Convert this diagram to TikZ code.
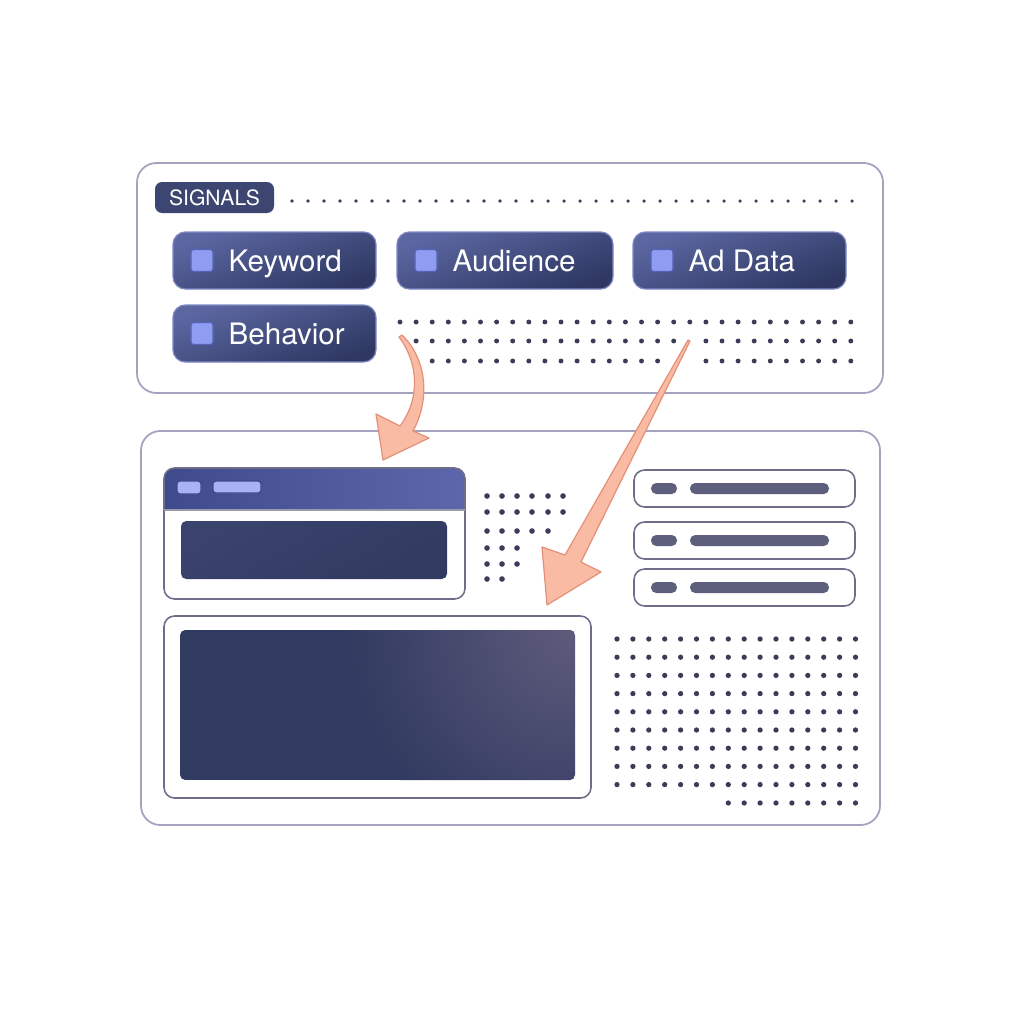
\documentclass[tikz,border=0pt]{standalone}
\usepackage{fontspec}
\setmainfont{TeX Gyre Heros}
\definecolor{panelline}{HTML}{A4A2BE}
\definecolor{cardline}{HTML}{6F6E8A}
\definecolor{chiplight}{HTML}{5C67A2}
\definecolor{chipdark}{HTML}{2E3862}
\definecolor{chipedge}{HTML}{8089C4}
\definecolor{tick}{HTML}{8E9DF2}
\definecolor{tickedge}{HTML}{5562B8}
\definecolor{dotc}{HTML}{3B3D58}
\definecolor{pill}{HTML}{5D5F7C}
\definecolor{arrowfill}{HTML}{F9BBA4}
\definecolor{arrowedge}{HTML}{E5917A}
\definecolor{hdrleft}{HTML}{3F4B8C}
\definecolor{hdrright}{HTML}{5D66AA}
\definecolor{screen}{HTML}{313A60}
\definecolor{screenhi}{HTML}{5E5B7C}
\definecolor{tagfill}{HTML}{3C4671}
\definecolor{hdrtick}{HTML}{9AA6F2}

\begin{document}
\begin{tikzpicture}[x=0.01cm,y=-0.01cm,
  panel/.style={draw=panelline,line width=0.5pt,rounded corners=5.5pt},
  card/.style={draw=cardline,line width=0.45pt,rounded corners=3pt},
  chip/.style={draw=chipedge,line width=0.35pt,rounded corners=3.5pt,top color=chiplight,bottom color=chipdark,shading angle=20},
  tickbox/.style={draw=tickedge,fill=tick,line width=0.3pt,rounded corners=0.8pt,minimum size=0.22cm,inner sep=0pt},
  chiptext/.style={anchor=base west,inner sep=0pt,text=white,font=\fontsize{8.4}{10}\selectfont},
  pillbar/.style={fill=pill,rounded corners=1.5pt},
  sigarrow/.style={fill=arrowfill,draw=arrowedge,line width=0.35pt,line join=round}]
  \newcommand\sigchip[5]{%
    \shade[chip] (#2,#3) rectangle (#4,#3+57);
    \node[tickbox] (#1box) at (#2+29,#3+28.5) {};
    \node[chiptext] (#1) at (#2+55,#3+39) {#5};
  }
  \useasboundingbox (0,0) rectangle (1024,1024);
  \fill[white] (0,0) rectangle (1024,1024);

% signals panel
  \draw[panel] (137,163) rectangle (883,393);
  \fill[tagfill,rounded corners=2pt] (155,182) rectangle (274,213);
  \node[inner sep=0pt,text=white,font=\fontsize{6}{7}\selectfont] (signals) at (214.5,198) {SIGNALS};
  \foreach \k in {0,...,35}
    \fill[dotc] (292+16*\k,201) circle (0.5pt);
  \sigchip{kw}{173}{232}{376}{Keyword}
  \sigchip{aud}{397}{232}{613}{Audience}
  \sigchip{addata}{633}{232}{846}{Ad Data}
  \sigchip{beh}{173}{305}{376}{Behavior}
  \foreach \k in {0,...,28}
    \fill[dotc] (400+16.1*\k,322) circle (0.7pt);
  \foreach \k in {1,...,17,19,20,21,22,23,24,25,26,27,28}
    \fill[dotc] (400+16.1*\k,341) circle (0.7pt);
  \foreach \k in {2,...,16,19,20,21,22,23,24,25,26,27,28}
    \fill[dotc] (400+16.1*\k,361) circle (0.7pt);

% layout panel
  \draw[panel] (141,431) rectangle (880,825);
  \begin{scope}
    \clip[rounded corners=3pt] (164,468) rectangle (465,599);
    \shade[left color=hdrleft,right color=hdrright] (164,468) rectangle (465,510);
  \end{scope}
  \draw[card] (164,468) rectangle (465,599);
  \draw[cardline!70,line width=0.3pt] (164,510) -- (465,510);
  \draw[hdrtick,fill=hdrtick!85,rounded corners=0.8pt,draw=hdrleft] (177,481) rectangle (201,494);
  \draw[hdrtick,fill=hdrtick!85,rounded corners=0.8pt,draw=hdrleft] (213,481) rectangle (261,493);
  \shade[rounded corners=1.5pt,top color=screen!80!chiplight,bottom color=screen,shading angle=30] (181,521) rectangle (447,579);

  \foreach \x/\y in {487/496,502/496,517/496,532/496,548/496,563/496,
                     487/512,502/512,517/512,532/512,548/512,563/512,
                     487/531,502/531,517/531,532/531,548/531,
                     487/548,502/548,517/548,
                     487/564,502/564,517/564,
                     487/579,502/579}
    \fill[dotc] (\x,\y) circle (0.8pt);

  \foreach \y in {470,522,569} {
    \draw[card] (634,\y) rectangle (855,\y+37);
    \fill[pillbar] (651,\y+13) rectangle (677,\y+24);
    \fill[pillbar] (690,\y+13) rectangle (829,\y+24);
  }

  \draw[card] (164,616) rectangle (591,798);
  \begin{scope}
    \clip[rounded corners=1.5pt] (180,630) rectangle (575,780);
    \fill[screen] (180,630) rectangle (575,780);
    \shade[inner color=screenhi,outer color=screen] (575,630) circle (230);
  \end{scope}

  \foreach \i in {0,...,15}
    \foreach \j in {0,...,8}
      \fill[dotc] (617+15.9*\i,639+18.2*\j) circle (0.75pt);
  \foreach \i in {7,...,15}
    \fill[dotc] (617+15.9*\i,803) circle (0.75pt);

% arrows
  \coordinate (a1tail) at (399,337);
  \coordinate (a1tip) at (383,460);
  \coordinate (a2tail) at (688,340);
  \coordinate (a2tip) at (547,605);
  \filldraw[sigarrow] (a1tail) .. controls (418,362) and (421,398) .. (400,426)
    -- (376,414) -- (a1tip) -- (429,438) -- (413,431)
    .. controls (431,398) and (426,358) .. (402,335) -- cycle;
  \filldraw[sigarrow] (a2tail) -- (690,341) -- (581,562) -- (601,572)
    -- (a2tip) -- (542,547) -- (565,555) -- cycle;
\end{tikzpicture}
\end{document}
